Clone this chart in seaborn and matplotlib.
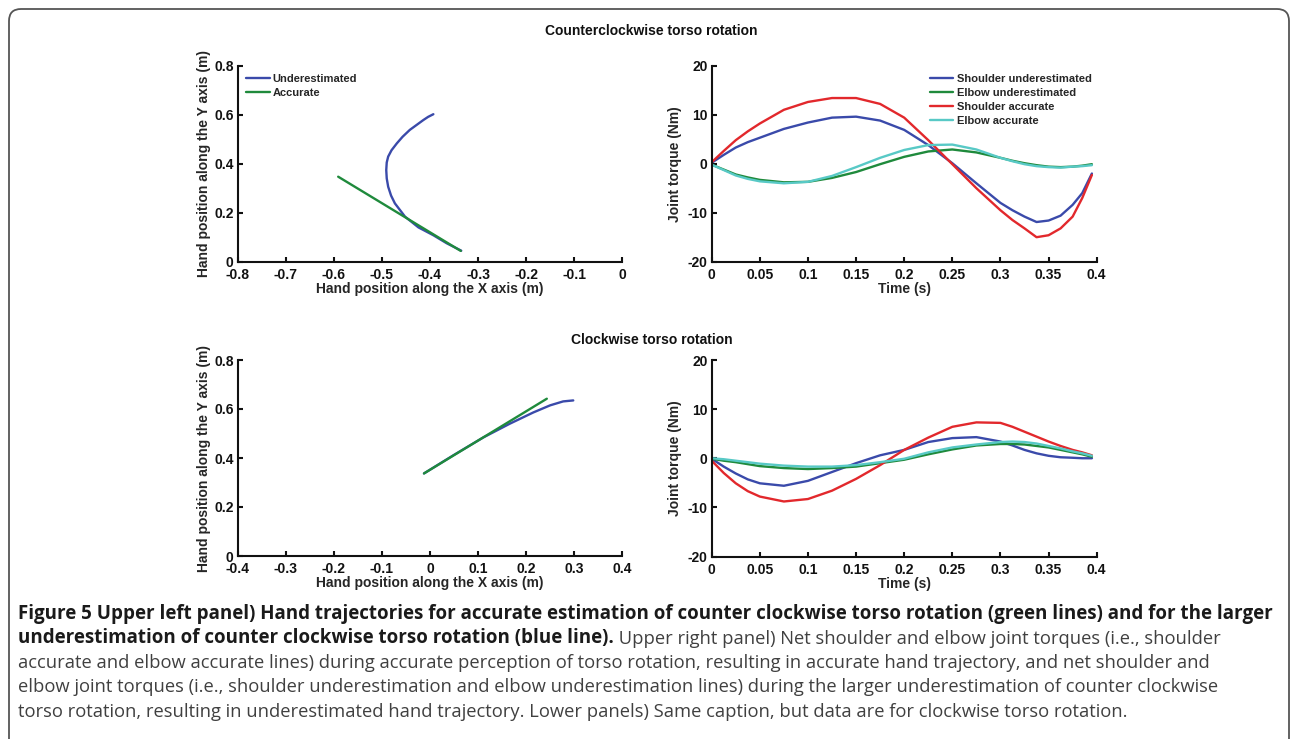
import numpy as np
import pandas as pd
import matplotlib
matplotlib.use("Agg")
import matplotlib.pyplot as plt
import seaborn as sns
from matplotlib import font_manager
from matplotlib.patches import FancyBboxPatch
from matplotlib.transforms import IdentityTransform, BboxTransformTo

# --- hand trajectories (m) ---
ccw_under_x = [-0.335, -0.365, -0.393, -0.424, -0.452, -0.473, -0.481, -0.487, -0.490, -0.491,
               -0.490, -0.487, -0.480, -0.469, -0.457, -0.442, -0.428, -0.414, -0.404, -0.393]
ccw_under_y = [0.045, 0.075, 0.108, 0.140, 0.184, 0.238, 0.270, 0.306, 0.340, 0.374,
               0.405, 0.429, 0.455, 0.483, 0.510, 0.538, 0.558, 0.578, 0.591, 0.602]
ccw_acc_x = [-0.336, -0.591]
ccw_acc_y = [0.044, 0.347]

cw_under_x = [-0.0125, 0.0485, 0.111, 0.166, 0.215, 0.250, 0.277, 0.298]
cw_under_y = [0.337, 0.411, 0.484, 0.540, 0.586, 0.615, 0.631, 0.635]
cw_acc_x = [-0.0125, 0.243]
cw_acc_y = [0.337, 0.642]

# --- joint torques (Nm) ---
time_s = [0, 0.0125, 0.025, 0.0375, 0.05, 0.075, 0.1, 0.125, 0.15, 0.175, 0.2, 0.225,
          0.25, 0.275, 0.3, 0.3125, 0.325, 0.3375, 0.35, 0.3625, 0.375, 0.385, 0.395]

ccw_shoulder_under = [0.2, 1.8, 3.3, 4.4, 5.3, 7.1, 8.4, 9.4, 9.6, 8.8, 6.9, 3.8,
                      0.1, -4.0, -8.0, -9.5, -10.8, -11.9, -11.6, -10.6, -8.4, -6.0, -2.0]
ccw_elbow_under = [-0.2, -1.2, -2.2, -2.8, -3.3, -3.8, -3.7, -2.9, -1.7, -0.1, 1.4, 2.5,
                   2.9, 2.3, 1.2, 0.6, 0.1, -0.3, -0.6, -0.7, -0.6, -0.4, -0.1]
ccw_shoulder_acc = [0.3, 2.6, 4.8, 6.6, 8.2, 11.0, 12.6, 13.4, 13.4, 12.2, 9.4, 4.8,
                    -0.1, -5.0, -9.5, -11.5, -13.2, -15.0, -14.6, -13.2, -10.8, -7.0, -2.3]
ccw_elbow_acc = [-0.2, -1.3, -2.4, -3.1, -3.6, -4.0, -3.7, -2.5, -0.7, 1.2, 2.8, 3.8,
                 3.9, 2.9, 1.2, 0.5, -0.1, -0.5, -0.7, -0.8, -0.6, -0.5, -0.3]

cw_shoulder_under = [-0.1, -1.7, -3.1, -4.3, -5.1, -5.6, -4.6, -2.8, -1.0, 0.6, 1.7, 3.3,
                     4.1, 4.3, 3.4, 2.6, 1.7, 1.0, 0.5, 0.2, 0.1, 0.0, 0.0]
cw_elbow_under = [-0.1, -0.5, -0.8, -1.2, -1.6, -2.0, -2.2, -2.0, -1.7, -1.0, -0.3, 0.8,
                  1.8, 2.6, 2.9, 2.9, 2.8, 2.5, 2.2, 1.7, 1.2, 0.8, 0.3]
cw_shoulder_acc = [-0.5, -3.0, -5.1, -6.7, -7.8, -8.8, -8.3, -6.6, -4.2, -1.4, 1.7, 4.2,
                   6.4, 7.3, 7.2, 6.4, 5.4, 4.4, 3.4, 2.5, 1.7, 1.2, 0.6]
cw_elbow_acc = [0.0, -0.2, -0.5, -0.8, -1.1, -1.5, -1.7, -1.7, -1.4, -0.8, -0.1, 1.2,
                2.2, 2.8, 3.3, 3.4, 3.3, 3.0, 2.5, 2.0, 1.4, 1.0, 0.5]

torque_labels = ["Shoulder underestimated", "Elbow underestimated",
                 "Shoulder accurate", "Elbow accurate"]
traj_labels = ["Underestimated", "Accurate"]

blue, green, red, cyan = "#3a4aaa", "#1f8a3c", "#e2282c", "#58c9c6"

sns.set_theme(style="ticks")
plt.rcParams['font.family'] = ['Liberation Sans', 'DejaVu Sans']
plt.rcParams['font.weight'] = 'bold'
plt.rcParams['axes.labelweight'] = 'bold'
plt.rcParams['axes.unicode_minus'] = False
plt.rcParams['axes.linewidth'] = 1.5
plt.rcParams['xtick.direction'] = 'in'
plt.rcParams['ytick.direction'] = 'in'

W, H = 1292, 739
fig = plt.figure(figsize=(W / 100, H / 100), dpi=100)
fig.patch.set_facecolor("white")


def add_ax(left, top, right, bottom):
    return fig.add_axes([left / W, 1 - bottom / H, (right - left) / W, (bottom - top) / H])


def style_ax(ax, xticks, yticks, xfmt, yfmt):
    sns.despine(ax=ax)
    ax.set_facecolor("white")
    ax.set_xticks(xticks)
    ax.set_yticks(yticks)
    ax.set_xticklabels([xfmt(v) for v in xticks])
    ax.set_yticklabels([yfmt(v) for v in yticks])
    ax.tick_params(axis="both", labelsize=10, width=1.5, length=3.5, colors="#111111")
    ax.tick_params(axis="x", pad=4.6)
    ax.tick_params(axis="y", pad=3)
    for s in ax.spines.values():
        s.set_color("#111111")


def fmt_num(v):
    s = f"{v:.2f}".rstrip("0").rstrip(".")
    return "0" if s in ("-0", "0") else s


def traj_panel(ax, ux, uy, ax_x, ax_y, xlim, xticks, show_legend):
    sns.lineplot(x=ux, y=uy, sort=False, estimator=None, color=blue, linewidth=1.7,
                 label=traj_labels[0], ax=ax)
    sns.lineplot(x=ax_x, y=ax_y, sort=False, estimator=None, color=green, linewidth=1.7,
                 label=traj_labels[1], ax=ax)
    ax.set_xlim(*xlim)
    ax.set_ylim(0, 0.8)
    style_ax(ax, xticks, [0, 0.2, 0.4, 0.6, 0.8], fmt_num, fmt_num)
    ax.set_xlabel("Hand position along the X axis (m)", fontsize=10, labelpad=0)
    ax.set_ylabel("Hand position along the Y axis (m)", fontsize=10, labelpad=2)
    if show_legend:
        ax.legend(loc="upper left", bbox_to_anchor=(0.021, 0.96), frameon=False,
                  fontsize=8, handlelength=2.2, handletextpad=0.2, labelspacing=0.38,
                  borderpad=0, borderaxespad=0)
    else:
        ax.get_legend().remove()


def torque_panel(ax, series, show_legend):
    df = pd.DataFrame({
        "time": time_s * 4,
        "torque": series[0] + series[1] + series[2] + series[3],
        "series": sum([[lab] * len(time_s) for lab in torque_labels], []),
    })
    sns.lineplot(data=df, x="time", y="torque", hue="series", hue_order=torque_labels,
                 palette=[blue, green, red, cyan], linewidth=1.7, estimator=None,
                 sort=False, ax=ax)
    ax.set_xlim(0, 0.4)
    ax.set_ylim(-20, 20)
    style_ax(ax, [0, 0.05, 0.1, 0.15, 0.2, 0.25, 0.3, 0.35, 0.4], [-20, -10, 0, 10, 20],
             fmt_num, lambda v: str(int(v)))
    ax.set_xlabel("Time (s)", fontsize=10, labelpad=0)
    ax.set_ylabel("Joint torque (Nm)", fontsize=10, labelpad=4)
    if show_legend:
        handles, labels = ax.get_legend_handles_labels()
        ax.legend(handles, labels, loc="upper left", bbox_to_anchor=(0.567, 0.96),
                  frameon=False, fontsize=8, handlelength=2.1, handletextpad=0.3,
                  labelspacing=0.38, borderpad=0, borderaxespad=0)
    else:
        ax.get_legend().remove()


ax_tl = add_ax(237.7, 65.7, 622.3, 261.7)
ax_tr = add_ax(711.7, 65.7, 1096.7, 261.7)
ax_bl = add_ax(237.7, 360, 622.3, 556)
ax_br = add_ax(711.7, 360, 1096.7, 556.5)

traj_panel(ax_tl, ccw_under_x, ccw_under_y, ccw_acc_x, ccw_acc_y, (-0.8, 0),
           [-0.8, -0.7, -0.6, -0.5, -0.4, -0.3, -0.2, -0.1, 0], True)
traj_panel(ax_bl, cw_under_x, cw_under_y, cw_acc_x, cw_acc_y, (-0.4, 0.4),
           [-0.4, -0.3, -0.2, -0.1, 0, 0.1, 0.2, 0.3, 0.4], False)
torque_panel(ax_tr, [ccw_shoulder_under, ccw_elbow_under, ccw_shoulder_acc, ccw_elbow_acc], True)
torque_panel(ax_br, [cw_shoulder_under, cw_elbow_under, cw_shoulder_acc, cw_elbow_acc], False)

fig.text(651.5 / W, 1 - 31 / H, "Counterclockwise torso rotation", ha="center", va="center",
         fontsize=10, fontweight="bold", color="#111111")
fig.text(652 / W, 1 - 340 / H, "Clockwise torso rotation", ha="center", va="center",
         fontsize=10, fontweight="bold", color="#111111")

# rounded frame around the figure
frame = FancyBboxPatch((9, -30), 1280, 739 - 9 + 30, boxstyle="round,pad=0,rounding_size=12",
                       transform=IdentityTransform(), facecolor="none", edgecolor="#555555",
                       linewidth=1.3)
fig.add_artist(frame)

# caption
avail = {f.name for f in font_manager.fontManager.ttflist}
cap_font = "Liberation Sans Narrow" if "Liberation Sans Narrow" in avail else "Open Sans"

bold1 = ("Figure 5 Upper left panel) Hand trajectories for accurate estimation of counter "
         "clockwise torso rotation (green lines) and for the larger")
bold2 = "underestimation of counter clockwise torso rotation (blue line)."
norm2 = " Upper right panel) Net shoulder and elbow joint torques (i.e., shoulder"
norm3 = ("accurate and elbow accurate lines) during accurate perception of torso rotation, "
         "resulting in accurate hand trajectory, and net shoulder and")
norm4 = ("elbow joint torques (i.e., shoulder underestimation and elbow underestimation lines) "
         "during the larger underestimation of counter clockwise")
norm5 = ("torso rotation, resulting in underestimated hand trajectory. Lower panels) Same "
         "caption, but data are for clockwise torso rotation.")

renderer = fig.canvas.get_renderer()
probe = fig.text(0, 0, bold1, fontsize=10, family=cap_font, fontweight="bold")
bold_size = 10 * 1260 / probe.get_window_extent(renderer).width
probe.remove()
probe = fig.text(0, 0, norm3, fontsize=10, family=cap_font, fontweight="normal")
norm_size = 10 * 1194 / probe.get_window_extent(renderer).width
probe.remove()

x0 = 18 / W
line_y = [614, 638.5, 663, 687.5, 712]
fig.text(x0, 1 - line_y[0] / H, bold1, fontsize=bold_size, family=cap_font,
         fontweight="bold", color="#1a1a1a", va="center")
t2 = fig.text(x0, 1 - line_y[1] / H, bold2, fontsize=bold_size, family=cap_font,
              fontweight="bold", color="#1a1a1a", va="center")
fig.text(1, 0, norm2, fontsize=norm_size, family=cap_font, fontweight="normal",
         color="#404040", va="bottom", ha="left",
         transform=BboxTransformTo(t2.get_window_extent(renderer)))
for txt, yy in zip([norm3, norm4, norm5], line_y[2:]):
    fig.text(x0, 1 - yy / H, txt, fontsize=norm_size, family=cap_font,
             fontweight="normal", color="#404040", va="center")

fig.savefig("out.png", dpi=100)
